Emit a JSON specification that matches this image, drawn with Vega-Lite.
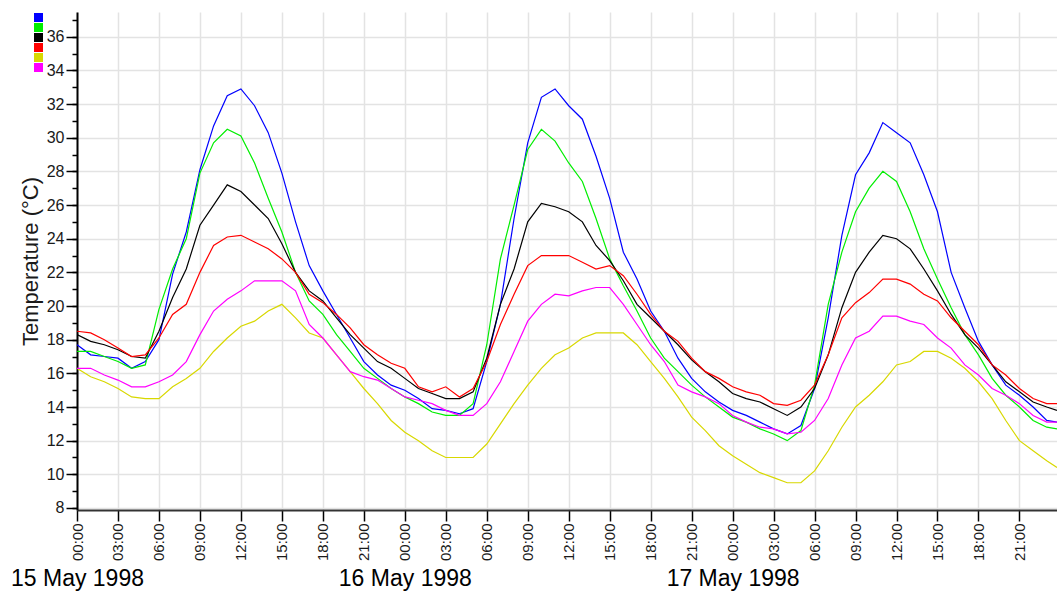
{
  "$schema": "https://vega.github.io/schema/vega-lite/v6.json",
  "width": 980,
  "height": 498,
  "autosize": {"type": "none"},
  "padding": {"left": 77, "top": 12, "right": 0, "bottom": 86},
  "background": "white",
  "config": {"view": {"stroke": null}, "font": "Liberation Sans"},
  "data": {"values": [
    {"t": "1998-05-15T00:00:00Z", "b": 17.7, "g": 17.3, "k": 18.3, "r": 18.5, "y": 16.3, "m": 16.3},
    {"t": "1998-05-15T01:00:00Z", "b": 17.1, "g": 17.3, "k": 17.9, "r": 18.4, "y": 15.8, "m": 16.3},
    {"t": "1998-05-15T02:00:00Z", "b": 17.0, "g": 17.0, "k": 17.7, "r": 18.0, "y": 15.5, "m": 15.9},
    {"t": "1998-05-15T03:00:00Z", "b": 16.9, "g": 16.7, "k": 17.4, "r": 17.5, "y": 15.1, "m": 15.6},
    {"t": "1998-05-15T04:00:00Z", "b": 16.3, "g": 16.3, "k": 17.0, "r": 17.0, "y": 14.6, "m": 15.2},
    {"t": "1998-05-15T05:00:00Z", "b": 16.7, "g": 16.5, "k": 16.9, "r": 17.1, "y": 14.5, "m": 15.2},
    {"t": "1998-05-15T06:00:00Z", "b": 18.0, "g": 19.8, "k": 18.5, "r": 18.1, "y": 14.5, "m": 15.5},
    {"t": "1998-05-15T07:00:00Z", "b": 21.9, "g": 22.2, "k": 20.5, "r": 19.5, "y": 15.2, "m": 15.9},
    {"t": "1998-05-15T08:00:00Z", "b": 24.4, "g": 24.0, "k": 22.2, "r": 20.1, "y": 15.7, "m": 16.7},
    {"t": "1998-05-15T09:00:00Z", "b": 28.1, "g": 27.9, "k": 24.8, "r": 22.0, "y": 16.3, "m": 18.3},
    {"t": "1998-05-15T10:00:00Z", "b": 30.7, "g": 29.7, "k": 26.0, "r": 23.6, "y": 17.3, "m": 19.7},
    {"t": "1998-05-15T11:00:00Z", "b": 32.5, "g": 30.5, "k": 27.2, "r": 24.1, "y": 18.1, "m": 20.4},
    {"t": "1998-05-15T12:00:00Z", "b": 32.9, "g": 30.1, "k": 26.8, "r": 24.2, "y": 18.8, "m": 20.9},
    {"t": "1998-05-15T13:00:00Z", "b": 31.9, "g": 28.5, "k": 26.0, "r": 23.8, "y": 19.1, "m": 21.5},
    {"t": "1998-05-15T14:00:00Z", "b": 30.3, "g": 26.4, "k": 25.2, "r": 23.4, "y": 19.7, "m": 21.5},
    {"t": "1998-05-15T15:00:00Z", "b": 27.9, "g": 24.4, "k": 23.7, "r": 22.8, "y": 20.1, "m": 21.5},
    {"t": "1998-05-15T16:00:00Z", "b": 25.0, "g": 22.0, "k": 22.0, "r": 22.0, "y": 19.3, "m": 20.9},
    {"t": "1998-05-15T17:00:00Z", "b": 22.4, "g": 20.3, "k": 20.9, "r": 20.7, "y": 18.4, "m": 18.9},
    {"t": "1998-05-15T18:00:00Z", "b": 20.9, "g": 19.5, "k": 20.3, "r": 20.2, "y": 18.1, "m": 18.1},
    {"t": "1998-05-15T19:00:00Z", "b": 19.5, "g": 18.3, "k": 19.3, "r": 19.5, "y": 17.1, "m": 17.1},
    {"t": "1998-05-15T20:00:00Z", "b": 18.1, "g": 17.3, "k": 18.3, "r": 18.7, "y": 16.1, "m": 16.1},
    {"t": "1998-05-15T21:00:00Z", "b": 16.7, "g": 16.3, "k": 17.5, "r": 17.7, "y": 15.1, "m": 15.8},
    {"t": "1998-05-15T22:00:00Z", "b": 15.9, "g": 15.7, "k": 16.7, "r": 17.1, "y": 14.2, "m": 15.6},
    {"t": "1998-05-15T23:00:00Z", "b": 15.3, "g": 15.1, "k": 16.3, "r": 16.6, "y": 13.2, "m": 15.1},
    {"t": "1998-05-16T00:00:00Z", "b": 15.0, "g": 14.6, "k": 15.7, "r": 16.3, "y": 12.5, "m": 14.6},
    {"t": "1998-05-16T01:00:00Z", "b": 14.5, "g": 14.2, "k": 15.1, "r": 15.2, "y": 12.0, "m": 14.4},
    {"t": "1998-05-16T02:00:00Z", "b": 13.9, "g": 13.7, "k": 14.8, "r": 14.9, "y": 11.4, "m": 14.2},
    {"t": "1998-05-16T03:00:00Z", "b": 13.8, "g": 13.5, "k": 14.5, "r": 15.2, "y": 11.0, "m": 13.8},
    {"t": "1998-05-16T04:00:00Z", "b": 13.6, "g": 13.5, "k": 14.5, "r": 14.6, "y": 11.0, "m": 13.5},
    {"t": "1998-05-16T05:00:00Z", "b": 13.9, "g": 14.2, "k": 14.9, "r": 15.1, "y": 11.0, "m": 13.5},
    {"t": "1998-05-16T06:00:00Z", "b": 16.7, "g": 17.7, "k": 16.9, "r": 16.7, "y": 11.8, "m": 14.2},
    {"t": "1998-05-16T07:00:00Z", "b": 20.1, "g": 22.8, "k": 20.1, "r": 18.9, "y": 13.0, "m": 15.5},
    {"t": "1998-05-16T08:00:00Z", "b": 25.2, "g": 26.0, "k": 22.2, "r": 20.7, "y": 14.2, "m": 17.3},
    {"t": "1998-05-16T09:00:00Z", "b": 29.7, "g": 29.3, "k": 25.0, "r": 22.4, "y": 15.3, "m": 19.1},
    {"t": "1998-05-16T10:00:00Z", "b": 32.4, "g": 30.5, "k": 26.1, "r": 23.0, "y": 16.3, "m": 20.1},
    {"t": "1998-05-16T11:00:00Z", "b": 32.9, "g": 29.8, "k": 25.9, "r": 23.0, "y": 17.1, "m": 20.7},
    {"t": "1998-05-16T12:00:00Z", "b": 31.9, "g": 28.5, "k": 25.6, "r": 23.0, "y": 17.5, "m": 20.6},
    {"t": "1998-05-16T13:00:00Z", "b": 31.1, "g": 27.4, "k": 25.0, "r": 22.6, "y": 18.1, "m": 20.9},
    {"t": "1998-05-16T14:00:00Z", "b": 28.9, "g": 25.2, "k": 23.6, "r": 22.2, "y": 18.4, "m": 21.1},
    {"t": "1998-05-16T15:00:00Z", "b": 26.4, "g": 22.8, "k": 22.7, "r": 22.4, "y": 18.4, "m": 21.1},
    {"t": "1998-05-16T16:00:00Z", "b": 23.2, "g": 21.2, "k": 21.5, "r": 21.8, "y": 18.4, "m": 20.1},
    {"t": "1998-05-16T17:00:00Z", "b": 21.6, "g": 19.7, "k": 20.1, "r": 20.7, "y": 17.7, "m": 18.9},
    {"t": "1998-05-16T18:00:00Z", "b": 19.7, "g": 18.1, "k": 19.3, "r": 19.5, "y": 16.7, "m": 17.7},
    {"t": "1998-05-16T19:00:00Z", "b": 18.5, "g": 16.9, "k": 18.5, "r": 18.5, "y": 15.7, "m": 16.7},
    {"t": "1998-05-16T20:00:00Z", "b": 16.9, "g": 16.1, "k": 17.7, "r": 17.9, "y": 14.6, "m": 15.3},
    {"t": "1998-05-16T21:00:00Z", "b": 15.7, "g": 15.3, "k": 16.8, "r": 16.9, "y": 13.4, "m": 14.9},
    {"t": "1998-05-16T22:00:00Z", "b": 14.9, "g": 14.6, "k": 16.1, "r": 16.1, "y": 12.6, "m": 14.6},
    {"t": "1998-05-16T23:00:00Z", "b": 14.3, "g": 14.0, "k": 15.5, "r": 15.7, "y": 11.7, "m": 14.2},
    {"t": "1998-05-17T00:00:00Z", "b": 13.8, "g": 13.4, "k": 14.8, "r": 15.2, "y": 11.1, "m": 13.5},
    {"t": "1998-05-17T01:00:00Z", "b": 13.5, "g": 13.1, "k": 14.5, "r": 14.9, "y": 10.6, "m": 13.1},
    {"t": "1998-05-17T02:00:00Z", "b": 13.1, "g": 12.7, "k": 14.3, "r": 14.7, "y": 10.1, "m": 12.8},
    {"t": "1998-05-17T03:00:00Z", "b": 12.7, "g": 12.4, "k": 13.9, "r": 14.2, "y": 9.8, "m": 12.7},
    {"t": "1998-05-17T04:00:00Z", "b": 12.4, "g": 12.0, "k": 13.5, "r": 14.1, "y": 9.5, "m": 12.4},
    {"t": "1998-05-17T05:00:00Z", "b": 12.9, "g": 12.6, "k": 14.0, "r": 14.4, "y": 9.5, "m": 12.5},
    {"t": "1998-05-17T06:00:00Z", "b": 15.1, "g": 15.3, "k": 15.1, "r": 15.3, "y": 10.2, "m": 13.2},
    {"t": "1998-05-17T07:00:00Z", "b": 19.3, "g": 20.1, "k": 17.1, "r": 17.1, "y": 11.4, "m": 14.5},
    {"t": "1998-05-17T08:00:00Z", "b": 24.2, "g": 23.2, "k": 19.9, "r": 19.3, "y": 12.8, "m": 16.5},
    {"t": "1998-05-17T09:00:00Z", "b": 27.8, "g": 25.6, "k": 22.0, "r": 20.2, "y": 14.0, "m": 18.1},
    {"t": "1998-05-17T10:00:00Z", "b": 29.1, "g": 27.0, "k": 23.2, "r": 20.8, "y": 14.7, "m": 18.5},
    {"t": "1998-05-17T11:00:00Z", "b": 30.9, "g": 28.0, "k": 24.2, "r": 21.6, "y": 15.5, "m": 19.4},
    {"t": "1998-05-17T12:00:00Z", "b": 30.3, "g": 27.4, "k": 24.0, "r": 21.6, "y": 16.5, "m": 19.4},
    {"t": "1998-05-17T13:00:00Z", "b": 29.7, "g": 25.6, "k": 23.4, "r": 21.3, "y": 16.7, "m": 19.1},
    {"t": "1998-05-17T14:00:00Z", "b": 27.8, "g": 23.4, "k": 22.2, "r": 20.7, "y": 17.3, "m": 18.9},
    {"t": "1998-05-17T15:00:00Z", "b": 25.6, "g": 21.6, "k": 20.9, "r": 20.3, "y": 17.3, "m": 18.1},
    {"t": "1998-05-17T16:00:00Z", "b": 22.0, "g": 19.9, "k": 19.5, "r": 19.3, "y": 16.9, "m": 17.5},
    {"t": "1998-05-17T17:00:00Z", "b": 19.9, "g": 18.3, "k": 18.3, "r": 18.5, "y": 16.3, "m": 16.5},
    {"t": "1998-05-17T18:00:00Z", "b": 17.9, "g": 17.1, "k": 17.5, "r": 17.7, "y": 15.5, "m": 15.9},
    {"t": "1998-05-17T19:00:00Z", "b": 16.5, "g": 15.7, "k": 16.5, "r": 16.5, "y": 14.5, "m": 15.1},
    {"t": "1998-05-17T20:00:00Z", "b": 15.3, "g": 14.7, "k": 15.5, "r": 15.9, "y": 13.2, "m": 14.7},
    {"t": "1998-05-17T21:00:00Z", "b": 14.7, "g": 14.0, "k": 14.9, "r": 15.1, "y": 12.0, "m": 14.2},
    {"t": "1998-05-17T22:00:00Z", "b": 14.0, "g": 13.2, "k": 14.3, "r": 14.5, "y": 11.4, "m": 13.5},
    {"t": "1998-05-17T23:00:00Z", "b": 13.2, "g": 12.8, "k": 14.0, "r": 14.2, "y": 10.8, "m": 13.1},
    {"t": "1998-05-17T23:45:00Z", "b": 13.1, "g": 12.7, "k": 13.8, "r": 14.2, "y": 10.4, "m": 13.1}
  ]},
  "transform": [{"fold": ["b", "g", "k", "r", "y", "m"], "as": ["s", "v"]}],
  "layer": [
    {
      "mark": {"type": "line", "strokeWidth": 1.2, "clip": true},
      "encoding": {
        "x": {
          "field": "t", "type": "temporal",
          "scale": {"type": "utc", "domain": [{"year": 1998, "month": 5, "date": 15, "utc": true}, {"year": 1998, "month": 5, "date": 17, "hours": 23, "minutes": 45, "utc": true}]},
          "axis": {
            "orient": "bottom",
            "title": null,
            "format": "%H:%M",
            "values": [
              {"year": 1998, "month": 5, "date": 15, "hours": 0, "utc": true},
              {"year": 1998, "month": 5, "date": 15, "hours": 3, "utc": true},
              {"year": 1998, "month": 5, "date": 15, "hours": 6, "utc": true},
              {"year": 1998, "month": 5, "date": 15, "hours": 9, "utc": true},
              {"year": 1998, "month": 5, "date": 15, "hours": 12, "utc": true},
              {"year": 1998, "month": 5, "date": 15, "hours": 15, "utc": true},
              {"year": 1998, "month": 5, "date": 15, "hours": 18, "utc": true},
              {"year": 1998, "month": 5, "date": 15, "hours": 21, "utc": true},
              {"year": 1998, "month": 5, "date": 16, "hours": 0, "utc": true},
              {"year": 1998, "month": 5, "date": 16, "hours": 3, "utc": true},
              {"year": 1998, "month": 5, "date": 16, "hours": 6, "utc": true},
              {"year": 1998, "month": 5, "date": 16, "hours": 9, "utc": true},
              {"year": 1998, "month": 5, "date": 16, "hours": 12, "utc": true},
              {"year": 1998, "month": 5, "date": 16, "hours": 15, "utc": true},
              {"year": 1998, "month": 5, "date": 16, "hours": 18, "utc": true},
              {"year": 1998, "month": 5, "date": 16, "hours": 21, "utc": true},
              {"year": 1998, "month": 5, "date": 17, "hours": 0, "utc": true},
              {"year": 1998, "month": 5, "date": 17, "hours": 3, "utc": true},
              {"year": 1998, "month": 5, "date": 17, "hours": 6, "utc": true},
              {"year": 1998, "month": 5, "date": 17, "hours": 9, "utc": true},
              {"year": 1998, "month": 5, "date": 17, "hours": 12, "utc": true},
              {"year": 1998, "month": 5, "date": 17, "hours": 15, "utc": true},
              {"year": 1998, "month": 5, "date": 17, "hours": 18, "utc": true},
              {"year": 1998, "month": 5, "date": 17, "hours": 21, "utc": true}
            ],
            "labelAngle": 270,
            "labelFontSize": 15,
            "labelColor": "#1a1a1a",
            "labelPadding": 2,
            "labelFlush": false,
            "labelOverlap": false,
            "labelBound": false,
            "tickSize": 11,
            "tickColor": "#000000",
            "tickWidth": 1.5,
            "domainColor": "#333333",
            "domainWidth": 2,
            "grid": true,
            "gridColor": "#e3e3e3",
            "gridWidth": 1.5
          }
        },
        "y": {
          "field": "v", "type": "quantitative",
          "scale": {"domain": [7.88, 37.47], "nice": false, "zero": false},
          "axis": {
            "title": "Temperature (°C)",
            "titleFontSize": 22,
            "titleFontWeight": "normal",
            "titleColor": "#1a1a1a",
            "titlePadding": 4,
            "values": [8, 10, 12, 14, 16, 18, 20, 22, 24, 26, 28, 30, 32, 34, 36],
            "labelFontSize": 16,
            "labelColor": "#1a1a1a",
            "labelPadding": 2,
            "labelFlush": false,
            "labelOverlap": false,
            "tickSize": 11,
            "tickColor": "#000000",
            "tickWidth": 1.5,
            "domainColor": "#000000",
            "domainWidth": 2,
            "grid": true,
            "gridColor": "#e3e3e3",
            "gridWidth": 1.5
          }
        },
        "color": {
          "field": "s", "type": "nominal",
          "scale": {"domain": ["b", "g", "k", "r", "y", "m"], "range": ["#0000ff", "#00ee00", "#000000", "#ff0000", "#d8d800", "#ff00ff"]},
          "legend": {
            "title": null,
            "orient": "none",
            "legendX": -43,
            "legendY": 1,
            "padding": 0,
            "symbolType": "square",
            "symbolSize": 81,
            "symbolStrokeWidth": 0,
            "rowPadding": 1,
            "labelExpr": "''",
            "labelFontSize": 8,
            "encode": {"symbols": {"update": {"fill": {"scale": "color", "field": "value"}, "fillOpacity": {"value": 1}}}}
          }
        }
      }
    },
    {
      "mark": {"type": "rule", "opacity": 0},
      "encoding": {
        "x": {
          "field": "t", "type": "temporal",
          "scale": {"type": "utc"},
          "axis": {
            "orient": "bottom",
            "title": null,
            "format": "%d %B %Y",
            "values": [
              {"year": 1998, "month": 5, "date": 15, "utc": true},
              {"year": 1998, "month": 5, "date": 16, "utc": true},
              {"year": 1998, "month": 5, "date": 17, "utc": true}
            ],
            "labelFontSize": 23,
            "labelColor": "#000000",
            "labelAlign": "center",
            "labelBaseline": "top",
            "labelPadding": 57,
            "labelFlush": false,
            "labelOverlap": false,
            "labelBound": false,
            "ticks": false,
            "domain": false,
            "grid": false
          }
        },
        "y": {
          "field": "v", "type": "quantitative",
          "axis": {
            "orient": "left",
            "title": null,
            "values": [8, 9, 10, 11, 12, 13, 14, 15, 16, 17, 18, 19, 20, 21, 22, 23, 24, 25, 26, 27, 28, 29, 30, 31, 32, 33, 34, 35, 36, 37],
            "labels": false,
            "tickSize": 5,
            "tickColor": "#000000",
            "tickWidth": 1.5,
            "domain": false,
            "grid": false
          }
        }
      }
    }
  ],
  "resolve": {"axis": {"x": "independent", "y": "independent"}}
}
